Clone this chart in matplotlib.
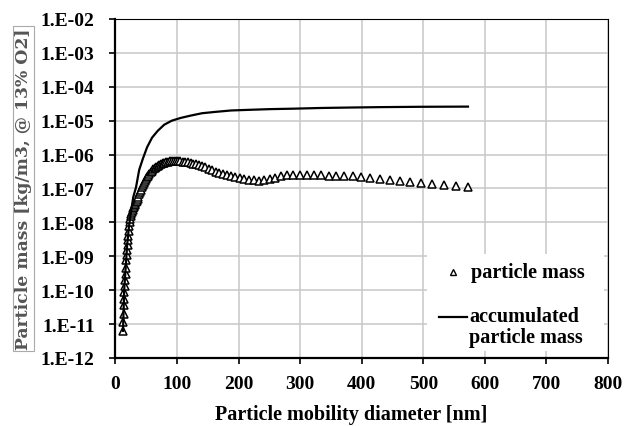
import numpy as np
import matplotlib
matplotlib.use('Agg')
import matplotlib.pyplot as plt
from matplotlib.patches import Rectangle
from matplotlib.lines import Line2D

# SMPS channel midpoints [nm]
diameter = [12.2, 12.6, 13.1, 13.6, 14.1, 14.6, 15.1, 15.7, 16.3, 16.8,
            17.5, 18.1, 18.8, 19.5, 20.2, 20.9, 21.7, 22.5, 23.3, 24.1,
            25.0, 25.9, 26.9, 27.9, 28.9, 30.0, 31.1, 32.2, 33.4, 34.6,
            35.9, 37.2, 38.5, 40.0, 41.4, 42.9, 44.5, 46.1, 47.8, 49.6,
            51.4, 53.3, 55.2, 57.3, 59.4, 61.5, 63.8, 66.1, 68.5, 71.0,
            73.7, 76.4, 79.1, 82.0, 85.1, 88.2, 91.4, 94.7, 98.2, 101.8,
            105.5, 109.4, 113.4, 117.6, 121.9, 126.3, 131.0, 135.8, 140.7, 145.9,
            151.2, 156.8, 162.5, 168.5, 174.7, 181.1, 187.7, 194.6, 201.7, 209.1,
            216.7, 224.7, 232.9, 241.4, 250.3, 259.5, 269.0, 278.8, 289.0, 299.6,
            310.6, 322.0, 333.8, 346.0, 358.7, 371.8, 385.4, 399.5, 414.2, 429.4,
            445.1, 461.4, 478.3, 495.8, 514.0, 532.8, 552.3, 572.5]

particle_mass = [6.31e-12, 1.12e-11, 2.0e-11, 3.55e-11, 5.62e-11, 8.91e-11, 1.35e-10, 2.04e-10, 3.09e-10, 4.57e-10,
                 7.59e-10, 1.07e-9, 1.51e-9, 2.14e-9, 2.95e-9, 4.07e-9, 5.62e-9, 7.59e-9, 1.0e-8, 1.26e-8,
                 1.51e-8, 1.78e-8, 2.04e-8, 2.34e-8, 2.63e-8, 2.88e-8, 3.16e-8, 3.47e-8, 3.89e-8, 4.37e-8,
                 5.01e-8, 5.75e-8, 6.76e-8, 7.94e-8, 9.12e-8, 1.07e-7, 1.23e-7, 1.41e-7, 1.62e-7, 1.86e-7,
                 2.14e-7, 2.40e-7, 2.69e-7, 3.02e-7, 3.39e-7, 3.72e-7, 4.07e-7, 4.37e-7, 4.68e-7, 5.01e-7,
                 5.25e-7, 5.50e-7, 5.75e-7, 6.03e-7, 6.17e-7, 6.31e-7, 6.46e-7, 6.46e-7, 6.46e-7, 6.46e-7,
                 6.31e-7, 6.17e-7, 6.03e-7, 5.89e-7, 5.62e-7, 5.37e-7, 5.13e-7, 4.79e-7, 4.47e-7, 4.17e-7,
                 3.80e-7, 3.47e-7, 3.16e-7, 2.88e-7, 2.63e-7, 2.45e-7, 2.29e-7, 2.14e-7, 2.00e-7, 1.91e-7,
                 1.82e-7, 1.74e-7, 1.70e-7, 1.74e-7, 1.86e-7, 2.04e-7, 2.29e-7, 2.45e-7, 2.51e-7, 2.51e-7,
                 2.45e-7, 2.51e-7, 2.45e-7, 2.34e-7, 2.34e-7, 2.29e-7, 2.29e-7, 2.19e-7, 2.00e-7, 1.86e-7,
                 1.78e-7, 1.66e-7, 1.58e-7, 1.41e-7, 1.32e-7, 1.29e-7, 1.17e-7, 1.10e-7]

acc_diameter = [12.2, 14.1, 16.3, 18.8, 21.7, 25.0, 28.9, 33.4, 38.5, 44.5,
                51.4, 59.4, 68.5, 79.1, 91.4, 105.5, 121.9, 140.7, 162.5, 187.7,
                216.7, 250.3, 289.0, 333.8, 385.4, 429.4, 495.8, 572.5]
acc_mass = [6.3e-12, 1.0e-10, 4.0e-10, 2.0e-9, 7.0e-9, 2.0e-8, 5.6e-8, 1.1e-7, 3.55e-7, 7.6e-7,
            1.66e-6, 3.16e-6, 5.0e-6, 7.6e-6, 1.0e-5, 1.2e-5, 1.41e-5, 1.66e-5, 1.82e-5, 2.0e-5,
            2.09e-5, 2.19e-5, 2.26e-5, 2.37e-5, 2.45e-5, 2.51e-5, 2.57e-5, 2.6e-5]

plt.rcParams['font.family'] = ['Liberation Serif', 'DejaVu Serif']
plt.rcParams['font.weight'] = 'bold'

fig = plt.figure(figsize=(6.36, 4.27), dpi=100)
ax = fig.add_axes([0.1816, 0.1593, 0.956 - 0.1816, 0.9532 - 0.1593])

ax.plot(diameter, particle_mass, linestyle='none', marker='^', markersize=5.5,
        markerfacecolor='white', markeredgecolor='black', markeredgewidth=1.1, zorder=3)
ax.plot(acc_diameter, acc_mass, color='black', linewidth=1.6, zorder=4)

ax.set_yscale('log')
ax.set_xlim(0, 800)
ax.set_ylim(1e-12, 1e-2)
ax.set_xticks(np.arange(0, 801, 100))
yt = [10.0 ** -k for k in range(12, 1, -1)]
ax.set_yticks(yt)
ax.set_yticklabels(['1.E-%02d' % k for k in range(12, 1, -1)])
ax.minorticks_off()

ax.grid(True, color='#c8c8c8', linewidth=1.1)
ax.set_axisbelow(True)
for s in ['left', 'bottom']:
    ax.spines[s].set_linewidth(1.6)
for s in ['top', 'right']:
    ax.spines[s].set_linewidth(0.8)
ax.tick_params(axis='both', direction='out', length=4, width=1.2, labelsize=14)
ax.tick_params(axis='y', pad=11)
ax.tick_params(axis='x', pad=8)

ax.set_xlabel('Particle mobility diameter [nm]', fontsize=14.5, fontweight='bold')
ax.xaxis.set_label_coords(0.479, -0.135)
ax.set_ylabel('Particle mass [kg/m3, @ 13% O2]', fontsize=12.4, fontweight='bold',
              color='#555555', family='DejaVu Serif',
              bbox=dict(facecolor='none', edgecolor='#aaaaaa', linewidth=0.8, pad=1.5))
ax.yaxis.set_label_coords(-0.17, 0.5)

# legend drawn by hand so the line sits next to the first text line
ta = ax.transAxes
ax.add_patch(Rectangle((0.632, 0.021), 0.36, 0.286, transform=ta, facecolor='white',
                       edgecolor='none', zorder=5))
ax.add_line(Line2D([0.685], [0.254], transform=ta, linestyle='none', marker='^',
                   markersize=4, markerfacecolor='white', markeredgecolor='black',
                   markeredgewidth=1.0, zorder=6))
ax.add_line(Line2D([0.657, 0.714], [0.121, 0.121], transform=ta, color='black',
                   linewidth=1.6, zorder=6))
ax.text(0.722, 0.254, 'particle mass', transform=ta, fontsize=14.5, va='center', zorder=6)
ax.text(0.718, 0.124, 'accumulated', transform=ta, fontsize=14.5, va='center', zorder=6)
ax.text(0.718, 0.062, 'particle mass', transform=ta, fontsize=14.5, va='center', zorder=6)

plt.savefig('out.png', dpi=100)
